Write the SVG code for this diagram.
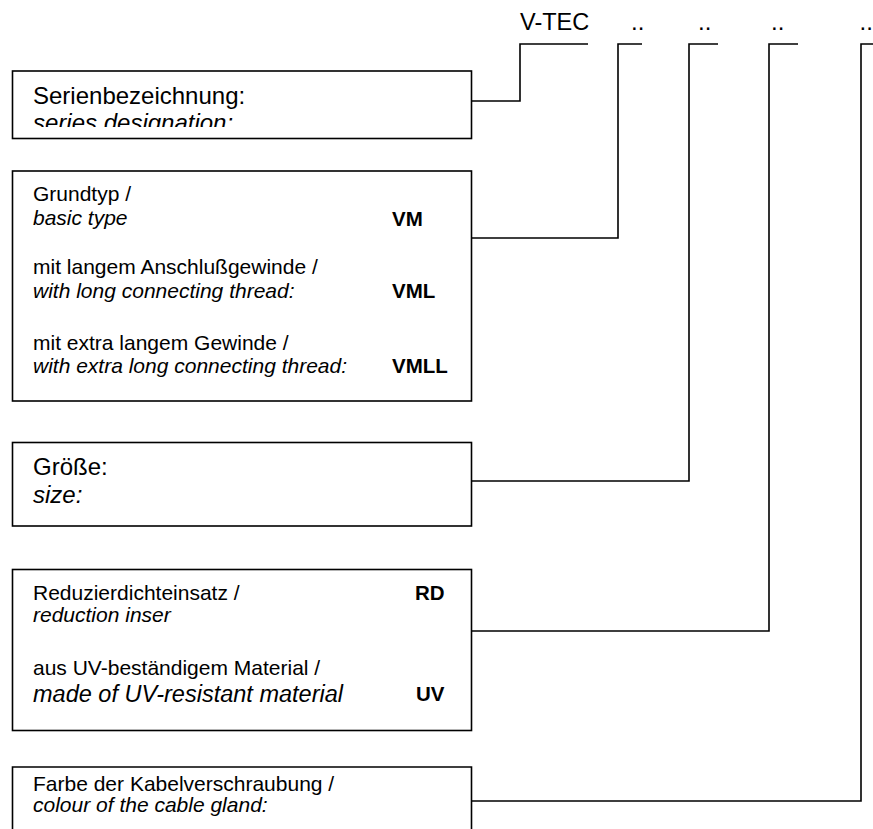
<svg xmlns="http://www.w3.org/2000/svg" width="873" height="829" viewBox="0 0 873 829">
<style>
text{font-family:"Liberation Sans",Arial,sans-serif;fill:#000}
.L{font-size:24px}
.S{font-size:21px}
.B{font-size:20.5px;font-weight:bold}
.i{font-style:italic}
.box{fill:#fff;stroke:#000;stroke-width:1.6}
.con{fill:none;stroke:#000;stroke-width:1.6}
</style>
<defs>
<clipPath id="c1"><rect x="12" y="70" width="460" height="57"/></clipPath>
<clipPath id="c5"><rect x="12" y="766" width="460" height="51"/></clipPath>
</defs>
<rect width="873" height="829" fill="#fff"/>
<g id="header">
<text class="L" x="520" y="29.5" style="font-size:23.5px">V-TEC</text>
<text class="L" x="631" y="29.5">..</text>
<text class="L" x="698" y="29.5">..</text>
<text class="L" x="771" y="29.5">..</text>
<text class="L" x="859.5" y="29.5">..</text>
</g>
<g id="connectors">
<polyline class="con" points="471,101 520,101 520,44 588,44"/>
<polyline class="con" points="471,238 618,238 618,44 642,44"/>
<polyline class="con" points="471,481 689,481 689,44 718,44"/>
<polyline class="con" points="471,631 769,631 769,44 798,44"/>
<polyline class="con" points="471,801 861,801 861,44 875,44"/>
</g>
<g id="series">
<rect class="box" x="12.5" y="71" width="459" height="67.5"/>
<g clip-path="url(#c1)">
<text class="L" x="33" y="103.5">Serienbezeichnung:</text>
<text class="L i" x="33" y="131">series designation:</text>
</g>
</g>
<g id="basictype">
<rect class="box" x="12.5" y="171" width="459" height="230"/>
<text class="S" x="33" y="201">Grundtyp /</text>
<text class="S i" x="33" y="225">basic type</text>
<text class="B" x="392" y="226">VM</text>
<text class="S" x="33" y="274">mit langem Anschlußgewinde /</text>
<text class="S i" x="33" y="297.5">with long connecting thread:</text>
<text class="B" x="392" y="297.5">VML</text>
<text class="S" x="33" y="349.5">mit extra langem Gewinde /</text>
<text class="S i" x="33" y="373">with extra long connecting thread:</text>
<text class="B" x="392" y="373">VMLL</text>
</g>
<g id="size">
<rect class="box" x="12.5" y="442.5" width="459" height="83.5"/>
<text class="L" x="33" y="475">Größe:</text>
<text class="L i" x="33" y="503">size:</text>
</g>
<g id="reduction">
<rect class="box" x="12.5" y="569.5" width="459" height="161"/>
<text class="S" x="33" y="599.5">Reduzierdichteinsatz /</text>
<text class="B" x="415" y="599.5">RD</text>
<text class="S i" x="33" y="622">reduction inser</text>
<text class="S" x="33" y="675">aus UV-beständigem Material /</text>
<text class="L i" x="33" y="702" style="font-size:23.5px">made of UV-resistant material</text>
<text class="B" x="416" y="701">UV</text>
</g>
<g id="colour">
<polyline class="box" points="12.5,835 12.5,767 471.5,767 471.5,835"/>
<g clip-path="url(#c5)">
<text class="S" x="33" y="790.5">Farbe der Kabelverschraubung /</text>
<text class="S i" x="33" y="812">colour of the cable gland:</text>
</g>
</g>
</svg>
